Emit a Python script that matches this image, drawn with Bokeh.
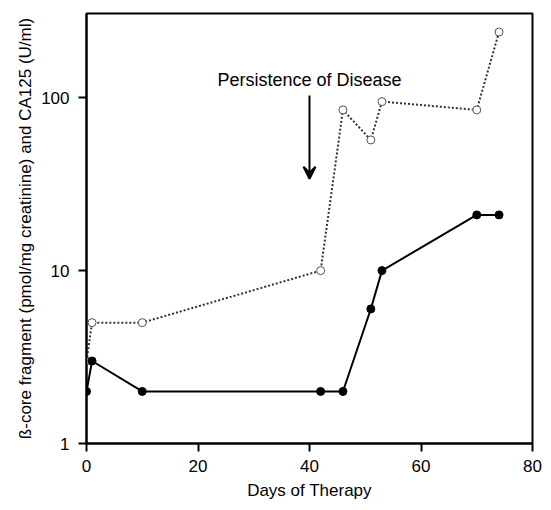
from bokeh.plotting import figure
from bokeh.models import (FixedTicker, PrintfTickFormatter, Label, Arrow, VeeHead, Range1d)
from bokeh.embed import file_html
from bokeh.resources import INLINE

# Data
days_beta = [0, 1, 10, 42, 46, 51, 53, 70, 74]
beta_core = [2, 3, 2, 2, 2, 6, 10, 21, 21]
days_ca = [0, 1, 10, 42, 46, 51, 53, 70, 74]
ca125 = [3, 5, 5, 10, 85, 57, 95, 85, 240]
x_ticks = [0, 20, 40, 60, 80]
y_ticks = [1, 10, 100]
annotation_text = "Persistence of Disease"
annotation_x = 40
annotation_y = 126
arrow_y_start = 103
arrow_y_end = 34

FONT = "Liberation Sans"

p = figure(width=543, height=502, y_axis_type="log",
           x_range=Range1d(0, 80), y_range=Range1d(1, 307),
           output_backend="svg", toolbar_location=None,
           min_border_left=86, min_border_right=11,
           min_border_top=13, min_border_bottom=55)

p.xgrid.visible = False
p.ygrid.visible = False
p.outline_line_color = "black"
p.outline_line_width = 2
p.outline_line_alpha = 1

# CA125 dotted line with open circles
p.line(days_ca, ca125, line_color="#333333", line_width=2, line_dash="2 2")
p.scatter(days_ca, ca125, size=8, marker="circle", fill_color="white",
          line_color="#555555", line_width=1)

# beta-core solid line with filled circles
p.line(days_beta, beta_core, line_color="black", line_width=2)
p.scatter(days_beta, beta_core, size=8, marker="circle", fill_color="black",
          line_color="black")

p.add_layout(Label(x=annotation_x, y=annotation_y, text=annotation_text,
                   text_align="center", text_baseline="alphabetic",
                   text_font=FONT, text_font_size="18px", text_color="black"))
p.add_layout(Arrow(end=VeeHead(size=12, line_width=2, line_color="black"),
                   x_start=annotation_x, y_start=arrow_y_start,
                   x_end=annotation_x, y_end=arrow_y_end,
                   line_width=2, line_color="black"))

for ax in (p.xaxis[0], p.yaxis[0]):
    ax.axis_line_width = 2
    ax.major_tick_line_width = 2
    ax.major_tick_out = 8
    ax.major_tick_in = 0
    ax.minor_tick_out = 0
    ax.minor_tick_in = 0
    ax.major_label_text_font = FONT
    ax.major_label_text_font_size = "17px"
    ax.major_label_text_color = "black"
    ax.axis_label_text_font = FONT
    ax.axis_label_text_font_size = "17px"
    ax.axis_label_text_font_style = "normal"
    ax.axis_label_text_color = "black"

p.xaxis.ticker = FixedTicker(ticks=x_ticks)
p.yaxis.ticker = FixedTicker(ticks=y_ticks)
p.yaxis.formatter = PrintfTickFormatter(format="%d")
p.xaxis.axis_label = "Days of Therapy"
p.yaxis.axis_label = "ß-core fragment (pmol/mg creatinine) and CA125 (U/ml)"
p.xaxis.major_label_standoff = 8
p.yaxis.major_label_standoff = 9
p.xaxis.axis_label_standoff = 6
p.yaxis.axis_label_standoff = 3

open("out.html", "w").write(file_html(p, INLINE))
